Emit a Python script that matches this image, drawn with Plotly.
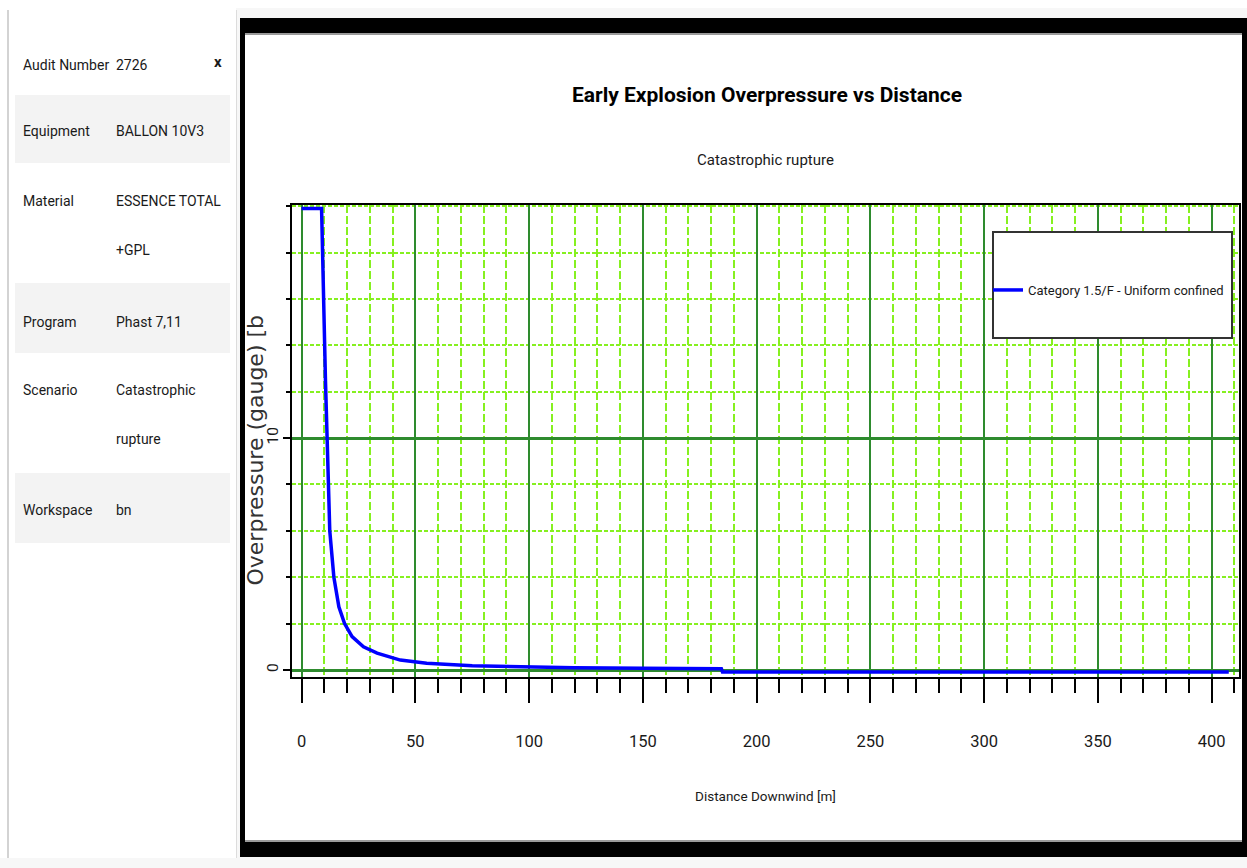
import plotly.graph_objects as go

# ---- data ----
distance_m = [0, 8.8, 10.5, 11.3, 11.7, 12.4, 14.2, 16.4, 18.9, 22.2, 27.2, 33.2, 43.4, 55,
              75, 100, 120, 150, 184.5, 185, 250, 300, 350, 407.5]
overpressure_bar = [19.9, 19.9, 12.5, 10.0, 8.0, 6.0, 4.0, 2.73, 2.0, 1.44, 1.0, 0.73, 0.43, 0.29,
                    0.18, 0.13, 0.10, 0.08, 0.06, -0.08, -0.08, -0.08, -0.08, -0.08]
series_name = "Category 1.5/F - Uniform confined"
x_ticks = [0, 50, 100, 150, 200, 250, 300, 350, 400]
y_ticks = [0, 10]

info_labels = ["Audit Number", "Equipment", "Material", "Program", "Scenario", "Workspace"]
info_values = [["2726"], ["BALLON 10V3"], ["ESSENCE TOTAL", "+GPL"], ["Phast 7,11"],
               ["Catastrophic", "rupture"], ["bn"]]

# ---- layout geometry (pixels) ----
W, H = 1247, 868
L, R, T, B = 292, 8, 205, 191
PW, PH = W - L - R, H - T - B


def px(xp):
    return (xp - L) / PW


def py(yp):
    return (H - B - yp) / PH


FONT = "Roboto, Liberation Sans, sans-serif"
TXT = "#1a1a1a"
DARKG = "#2e8b2e"
LIGHTG = "#86f020"

fig = go.Figure()
fig.add_trace(go.Scatter(x=distance_m, y=overpressure_bar, mode="lines", name=series_name,
                         line=dict(color="#0000ff", width=3.5), showlegend=True))

shapes = []


def rect(x0, y0, x1, y1, fill, layer="below", line=None):
    d = dict(type="rect", xref="paper", yref="paper", x0=px(x0), x1=px(x1), y0=py(y0), y1=py(y1),
             fillcolor=fill, layer=layer, line=dict(width=0))
    if line:
        d["line"] = line
    shapes.append(d)


# left info panel
rect(0, 0, 236, 858, "white")
rect(0, 0, W, 8, "white")
rect(15, 95, 230, 163, "#f3f3f3")
rect(15, 283, 230, 353, "#f3f3f3")
rect(15, 473, 230, 543, "#f3f3f3")
rect(7.5, 10, 8.5, 858, "#a8a8a8")
rect(236, 10, 237, 858, "#dcdcdc")
# black chart frame
rect(240, 18, W, 857, "black")
rect(245, 33, 1242, 842, "white")
rect(245, 33, 1242, 35, "#9a9a9a")
rect(245, 840, 1242, 842, "#9a9a9a")
# legend box
rect(993, 232, 1232, 338, "white", layer="above", line=dict(color="#333333", width=2))


def text(t, x, y, size, xanchor="left", yanchor="middle", angle=0, family=FONT, color=TXT):
    return dict(text=t, x=px(x), y=py(y), xref="paper", yref="paper", xanchor=xanchor,
                yanchor=yanchor, showarrow=False, textangle=angle,
                font=dict(family=family, size=size, color=color))


annotations = []
row_y = [65, 131, 201, 322, 390, 510]
for lab, vals, yy in zip(info_labels, info_values, row_y):
    annotations.append(text(lab, 21, yy, 14))
    for i, v in enumerate(vals):
        annotations.append(text(v, 114, yy + 49 * i, 14))
annotations.append(text("<b>x</b>", 218, 62, 15, xanchor="center"))

annotations.append(text("Catastrophic rupture", 765, 160, 15, xanchor="center"))
annotations.append(text("Overpressure (gauge) [b", 254.5, 450, 22, xanchor="center", angle=-90,
                        family="DejaVu Sans, sans-serif", color="#333333"))

fig.update_layout(
    width=W, height=H,
    margin=dict(l=L, r=R, t=T, b=B, autoexpand=False),
    paper_bgcolor="#f7f7f7", plot_bgcolor="white",
    title=dict(text="<b>Early Explosion Overpressure vs Distance</b>", x=px(767), xanchor="center",
               xref="paper", yref="container", y=1 - 95 / H, yanchor="middle",
               font=dict(family=FONT, size=21, color="black")),
    shapes=shapes, annotations=annotations,
    showlegend=True,
    legend=dict(x=px(988), y=py(290), xanchor="left", yanchor="middle", bgcolor="rgba(0,0,0,0)",
                borderwidth=0, font=dict(family=FONT, size=13, color=TXT), itemwidth=30),
    xaxis=dict(range=[-4.2, 412], tickvals=x_ticks, ticks="outside", ticklen=24, tickwidth=1.5,
               tickcolor="black", showline=True, linecolor="black", linewidth=2, mirror=True,
               showgrid=True, gridcolor=DARKG, gridwidth=1.5, zeroline=False,
               tickfont=dict(family=FONT, size=16.5, color=TXT), ticklabelstandoff=24,
               minor=dict(dtick=10, ticks="outside", ticklen=14, tickwidth=1.5, tickcolor="black",
                          showgrid=True, gridcolor=LIGHTG, griddash="8px,3px", gridwidth=1.5),
               title=dict(text="Distance Downwind [m]", standoff=42,
                          font=dict(family=FONT, size=13.5, color=TXT))),
    yaxis=dict(range=[-0.3, 20.05], tickvals=y_ticks, ticks="outside", ticklen=7, tickwidth=1.5,
               tickcolor="black", showline=True, linecolor="black", linewidth=2, mirror=True,
               showgrid=True, gridcolor=DARKG, gridwidth=3, zeroline=False, tickangle=-90,
               tickfont=dict(family=FONT, size=15.5, color=TXT), ticklabelstandoff=-1,
               minor=dict(dtick=2, ticks="outside", ticklen=4, tickwidth=1.5, tickcolor="black",
                          showgrid=True, gridcolor=LIGHTG, griddash="4px,2px", gridwidth=2)),
)

fig.write_html("out.html")
